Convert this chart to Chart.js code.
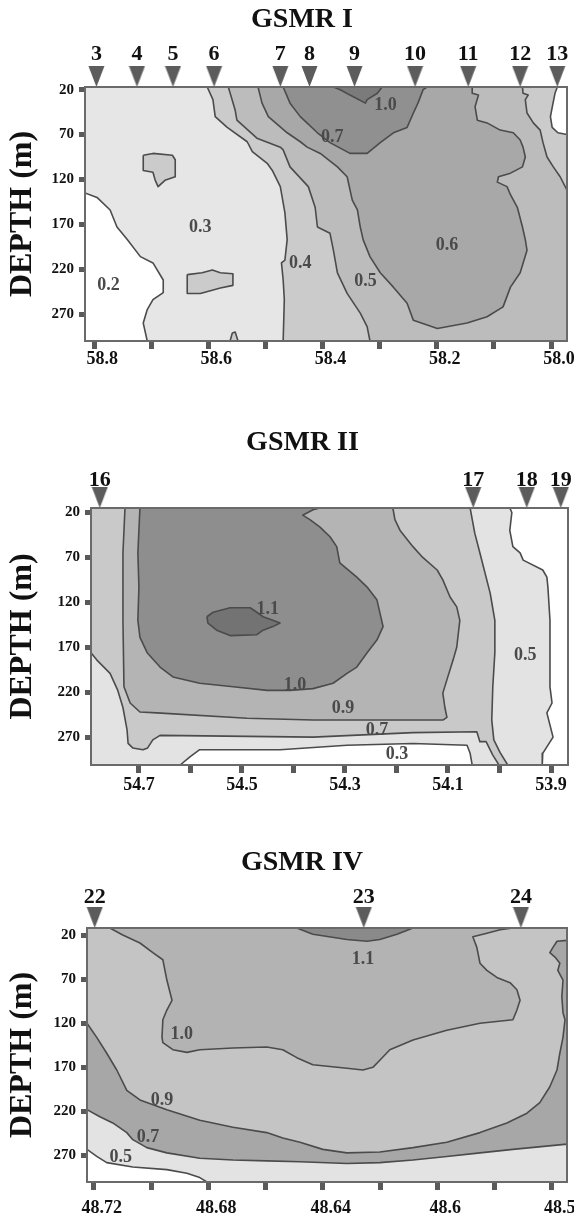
<!DOCTYPE html>
<html><head><meta charset="utf-8">
<script src="https://cdn.jsdelivr.net/npm/chart.js@4.4.1/dist/chart.umd.min.js"></script>
<style>
html,body{margin:0;padding:0;background:#fff;overflow:hidden;width:574px;height:1222px;position:relative}
.p{position:absolute;left:0}
canvas{display:block}
</style></head><body>
<div class="p" style="top:0px"><canvas id="c1" width="604" height="375"></canvas></div>
<div class="p" style="top:420px"><canvas id="c2" width="604" height="380"></canvas></div>
<div class="p" style="top:820px"><canvas id="c3" width="604" height="402"></canvas></div>
<script>
// ---------- shared ----------
const depthTicks = [20, 70, 120, 170, 220, 270];

// ---------- GSMR I ----------
const p1Title = 'GSMR I';
const p1XRange = [57.972, 58.816];
const p1YRange = [17, 300];
const p1StationNames = ['3','4','5','6','7','8','9','10','11','12','13'];
const p1StationLon = [58.796, 58.725, 58.662, 58.590, 58.474, 58.423, 58.344, 58.238, 58.145, 58.054, 57.989];
const p1XTicks = [58.8, 58.7, 58.6, 58.5, 58.4, 58.3, 58.2, 58.1, 58.0];
const p1XLabels = ['58.8','','58.6','','58.4','','58.2','','58.0'];
const p1Lv03 = [[58.816,17],[57.972,17],[57.972,300],[58.816,300]];
const p1Lv02 = [[58.816,135],[58.795,140],[58.772,154],[58.760,173],[58.742,187],[58.719,206],[58.697,213],[58.679,232],[58.679,246],[58.697,254],[58.707,265],[58.714,280],[58.707,300],[58.816,300]];
const p1Lv04 = [[58.602,17],[58.592,31],[58.588,50],[58.567,62],[58.532,78],[58.523,89],[58.497,102],[58.488,110],[58.474,128],[58.466,157],[58.462,187],[58.466,210],[58.472,213],[58.469,232],[58.467,254],[58.469,300],[57.972,300],[57.972,17]];
const p1Lv05 = [[58.565,17],[58.553,43],[58.550,54],[58.515,74],[58.474,84],[58.469,87],[58.457,106],[58.425,128],[58.413,151],[58.409,173],[58.387,180],[58.381,199],[58.374,224],[58.357,247],[58.334,269],[58.322,284],[58.317,300],[57.972,300],[57.972,17]];
const p1Lv04East = [[58.050,17],[58.049,24],[58.040,26],[58.045,31],[58.042,46],[58.031,57],[58.019,65],[58.014,79],[58.007,95],[57.996,106],[57.984,117],[57.972,132],[57.972,17]];
const p1Lv03East = [[57.989,17],[57.993,24],[57.998,40],[58.001,50],[57.998,62],[57.988,68],[57.972,70],[57.972,17]];
const p1Lv06 = [[58.513,17],[58.506,35],[58.495,50],[58.462,68],[58.439,78],[58.427,84],[58.404,91],[58.374,106],[58.357,117],[58.348,143],[58.339,154],[58.334,173],[58.329,187],[58.317,206],[58.299,224],[58.276,240],[58.252,258],[58.241,277],[58.199,286],[58.147,280],[58.112,273],[58.084,262],[58.071,240],[58.054,224],[58.042,199],[58.045,187],[58.050,173],[58.059,151],[58.071,137],[58.077,128],[58.094,123],[58.092,117],[58.071,113],[58.050,106],[58.045,95],[58.049,84],[58.054,76],[58.066,68],[58.089,65],[58.112,57],[58.129,54],[58.133,39],[58.127,26],[58.138,24],[58.138,17]];
const p1Lv07 = [[58.469,17],[58.457,35],[58.439,50],[58.409,68],[58.387,79],[58.352,91],[58.322,91],[58.299,79],[58.276,68],[58.252,62],[58.241,46],[58.233,35],[58.224,20],[58.217,17]];
const p1Lv10 = [[58.381,17],[58.369,20],[58.352,26],[58.325,35],[58.322,31],[58.304,24],[58.296,17]];
const p1IslandA = [[58.714,93],[58.697,91],[58.663,93],[58.658,98],[58.658,117],[58.676,121],[58.688,128],[58.693,121],[58.697,112],[58.714,110],[58.714,102],[58.714,93]];
const p1IslandB = [[58.637,226],[58.611,224],[58.593,221],[58.579,224],[58.557,225],[58.557,238],[58.579,241],[58.614,247],[58.637,247],[58.637,226]];
const p1IslandC = [[58.562,300],[58.558,291],[58.553,290],[58.548,300]];
const p1Labels = [[58.290,37,'1.0'],[58.383,73,'0.7'],[58.182,193,'0.6'],[58.325,234,'0.5'],[58.439,213,'0.4'],[58.614,173,'0.3'],[58.775,238,'0.2']];

// ---------- GSMR II ----------
const p2Title = 'GSMR II';
const p2XRange = [53.867, 54.793];
const p2YRange = [15, 301];
const p2StationNames = ['16','17','18','19'];
const p2StationLon = [54.776, 54.051, 53.947, 53.881];
const p2XTicks = [54.7, 54.6, 54.5, 54.4, 54.3, 54.2, 54.1, 54.0, 53.9];
const p2XLabels = ['54.7','','54.5','','54.3','','54.1','','53.9'];
const p2Lv05 = [[54.793,15],[53.867,15],[53.867,301],[54.793,301]];
const p2Lv03East = [[53.980,15],[53.976,20],[53.980,40],[53.974,58],[53.960,65],[53.954,73],[53.916,84],[53.908,92],[53.906,103],[53.902,140],[53.902,176],[53.902,214],[53.898,232],[53.908,243],[53.896,270],[53.916,288],[53.917,301],[53.867,301],[53.867,15]];
const p2Lv03Bottom = [[54.620,301],[54.601,292],[54.582,284],[54.426,284],[54.296,279],[54.168,277],[54.063,279],[54.057,288],[54.053,301]];
const p2Lv07 = [[54.793,15],[54.057,15],[54.048,43],[54.038,65],[54.018,110],[54.009,140],[54.009,176],[54.013,214],[54.015,251],[54.011,273],[53.999,287],[53.984,301],[54.001,301],[54.013,290],[54.026,275],[54.038,275],[54.044,264],[54.168,265],[54.362,270],[54.659,268],[54.673,273],[54.683,282],[54.692,284],[54.712,282],[54.721,277],[54.723,262],[54.731,237],[54.741,218],[54.756,199],[54.782,184],[54.793,176]];
const p2Lv09 = [[54.727,15],[54.731,65],[54.731,140],[54.729,214],[54.717,232],[54.698,242],[54.665,243],[54.490,249],[54.362,251],[54.110,251],[54.102,248],[54.106,237],[54.110,221],[54.102,206],[54.090,184],[54.083,170],[54.077,140],[54.083,125],[54.096,114],[54.110,95],[54.121,84],[54.149,70],[54.168,58],[54.193,40],[54.203,28],[54.207,15]];
const p2Lv10 = [[54.698,15],[54.702,65],[54.700,103],[54.702,140],[54.698,159],[54.684,176],[54.659,192],[54.634,203],[54.582,210],[54.517,214],[54.451,218],[54.407,218],[54.362,216],[54.323,210],[54.296,199],[54.277,192],[54.257,176],[54.238,162],[54.226,147],[54.232,132],[54.238,117],[54.257,103],[54.277,92],[54.310,76],[54.316,58],[54.329,47],[54.349,36],[54.368,28],[54.382,23],[54.362,17],[54.349,15]];
const p2Lv11 = [[54.568,136],[54.556,131],[54.523,126],[54.484,126],[54.471,131],[54.459,136],[54.440,140],[54.426,143],[54.440,147],[54.459,151],[54.471,156],[54.523,157],[54.549,151],[54.566,143],[54.568,136]];
const p2Labels = [[54.450,128,'1.1'],[54.397,212,'1.0'],[54.304,238,'0.9'],[54.238,262,'0.7'],[54.199,289,'0.3'],[53.950,179,'0.5']];

// ---------- GSMR IV ----------
const p3Title = 'GSMR IV';
const p3XRange = [48.5547, 48.7224];
const p3YRange = [12, 300];
const p3StationNames = ['22','23','24'];
const p3StationLon = [48.7197, 48.6257, 48.5708];
const p3XTicks = [48.72, 48.70, 48.68, 48.66, 48.64, 48.62, 48.60, 48.58, 48.56];
const p3XLabels = ['48.72','','48.68','','48.64','','48.6','','48.5'];
const p3Lv07 = [[48.7224,12],[48.5547,12],[48.5547,300],[48.7224,300]];
const p3Lv09 = [[48.7224,12],[48.7224,120],[48.7190,136],[48.7155,154],[48.7120,173],[48.7085,196],[48.7039,207],[48.6945,218],[48.6830,230],[48.6714,238],[48.6596,244],[48.6540,250],[48.6480,255],[48.6400,263],[48.6316,267],[48.6201,266],[48.6085,261],[48.5967,255],[48.5851,244],[48.5757,233],[48.5687,222],[48.5642,210],[48.5607,192],[48.5582,173],[48.5572,154],[48.5561,136],[48.5554,116],[48.5561,108],[48.5565,90],[48.5561,71],[48.5579,60],[48.5572,52],[48.5589,45],[48.5607,40],[48.5596,34],[48.5582,27],[48.5547,26],[48.5547,12]];
const p3Lv10 = [[48.7144,12],[48.7099,20],[48.7039,29],[48.6994,40],[48.6959,48],[48.6945,71],[48.6927,94],[48.6945,105],[48.6959,116],[48.6962,136],[48.6959,142],[48.6924,150],[48.6875,153],[48.6830,150],[48.6714,148],[48.6596,147],[48.6540,150],[48.6491,159],[48.6435,167],[48.6316,171],[48.6260,173],[48.6225,170],[48.6201,162],[48.6166,150],[48.6085,139],[48.5967,128],[48.5851,120],[48.5736,116],[48.5722,105],[48.5711,94],[48.5722,82],[48.5746,74],[48.5792,68],[48.5827,60],[48.5851,52],[48.5862,34],[48.5876,22],[48.5827,18],[48.5781,14],[48.5736,12]];
const p3Lv11 = [[48.6491,12],[48.6435,19],[48.6316,25],[48.6246,27],[48.6201,25],[48.6141,19],[48.6085,12]];
const p3Lv05 = [[48.7224,218],[48.7179,226],[48.7134,233],[48.7085,244],[48.7064,252],[48.7015,261],[48.6945,267],[48.6830,273],[48.6714,275],[48.6596,276],[48.6480,277],[48.6316,279],[48.6201,278],[48.6085,275],[48.5967,271],[48.5851,267],[48.5736,263],[48.5547,257],[48.5547,300],[48.7224,300]];
const p3Lv03 = [[48.7224,263],[48.7190,271],[48.7155,278],[48.7064,283],[48.6945,286],[48.6875,290],[48.6830,295],[48.6805,300],[48.7224,300]];
const p3Labels = [[48.6260,48,'1.1'],[48.6893,133,'1.0'],[48.6962,207,'0.9'],[48.7011,249,'0.7'],[48.7106,272,'0.5']];

// ---------- drawing ----------
const SERIF = '"Liberation Serif", "DejaVu Serif", serif';
const LINE = '#4b4b4b';
Chart.defaults.font.family = SERIF;

function triangleImage() {
  const c = document.createElement('canvas');
  c.width = 17; c.height = 44;
  const g = c.getContext('2d');
  g.fillStyle = '#5c5c5c';
  g.beginPath(); g.moveTo(0.5, 1); g.lineTo(16.5, 1); g.lineTo(8.5, 22); g.closePath(); g.fill();
  return c;
}
const TRI = triangleImage();

function region(pts, color) {
  return { data: pts.map(p => ({x: p[0], y: p[1]})), showLine: true, fill: 'shape',
    backgroundColor: color, borderColor: LINE, borderWidth: 1.6, pointRadius: 0, tension: 0,
    borderJoinStyle: 'round' };
}

function makePanel(id, P) {
  const datasets = P.layers.map((l, i) => Object.assign(region(l[0], l[1]), {order: 1000 - i}));
  datasets.push({ data: P.stLon.map(v => ({x: v, y: P.yRange[0]})), showLine: false, clip: false,
    pointStyle: TRI, pointRadius: 8, order: -10 });
  const labelsPlugin = {
    id: 'contourLabels' + id,
    afterDatasetsDraw(chart) {
      const {ctx, chartArea: a} = chart; const sx = chart.scales.x, sy = chart.scales.y;
      ctx.save();
      ctx.strokeStyle = '#6a6a6a'; ctx.lineWidth = 2;
      ctx.strokeRect(a.left, a.top, a.right - a.left, a.bottom - a.top);
      ctx.font = 'bold 18px ' + SERIF; ctx.fillStyle = '#4a4a4a';
      ctx.textAlign = 'center'; ctx.textBaseline = 'middle';
      P.labels.forEach(t => ctx.fillText(t[2], sx.getPixelForValue(t[0]), sy.getPixelForValue(t[1])));
      ctx.restore();
    }
  };
  new Chart(document.getElementById(id), {
    type: 'scatter',
    data: { datasets },
    plugins: [labelsPlugin],
    options: {
      responsive: false, animation: false, events: [],
      layout: { padding: { left: 37, right: P.padRight, top: 0, bottom: 0 } },
      plugins: {
        legend: { display: false }, tooltip: { enabled: false },
        title: { display: true, text: P.title, color: '#111',
          font: { family: SERIF, size: 28, weight: 'bold', lineHeight: 1.2 },
          padding: { top: P.titlePad, bottom: 0 } }
      },
      scales: {
        x: { type: 'linear', position: 'bottom', min: P.xRange[0], max: P.xRange[1], reverse: true,
          afterBuildTicks: s => { s.ticks = P.xTicks.map(v => ({value: v})); },
          afterFit: s => { s.height = P.botH; },
          ticks: { callback: (v, i) => P.xLabels[i], color: '#111', autoSkip: false, maxRotation: 0,
            padding: P.xPad, labelOffset: P.xOff, font: { family: SERIF, size: 18, weight: 'bold', lineHeight: 1.2 } },
          grid: { drawOnChartArea: false, drawTicks: true, tickLength: 8, tickWidth: 5, tickColor: '#5a5a5a' },
          border: { display: false } },
        xTop: { type: 'linear', position: 'top', min: P.xRange[0], max: P.xRange[1], reverse: true,
          afterBuildTicks: s => { s.ticks = P.stLon.map(v => ({value: v})); },
          afterFit: s => { s.height = P.topH; },
          ticks: { callback: (v, i) => P.stNames[i], color: '#111', autoSkip: false, maxRotation: 0,
            padding: P.stPad, font: { family: SERIF, size: 22, weight: 'bold', lineHeight: 1.2 } },
          grid: { display: false, drawTicks: false }, border: { display: false } },
        y: { type: 'linear', position: 'left', min: P.yRange[0], max: P.yRange[1], reverse: true,
          afterBuildTicks: s => { s.ticks = depthTicks.map(v => ({value: v})); },
          afterFit: s => { s.width = P.leftW - 37; },
          ticks: { color: '#111', autoSkip: false, padding: 5,
            font: { family: SERIF, size: 15, weight: 'bold' } },
          grid: { drawOnChartArea: false, tickLength: 6, tickWidth: 5, tickColor: '#5a5a5a' },
          border: { display: false },
          title: { display: true, text: 'DEPTH (m)', color: '#111',
            font: { family: SERIF, size: 32, weight: 'bold', lineHeight: 1.2 }, padding: { top: -33, bottom: 0 } } }
      }
    }
  });
}

makePanel('c1', {
  title: p1Title, xRange: p1XRange, yRange: p1YRange, stNames: p1StationNames, stLon: p1StationLon,
  xTicks: p1XTicks, xLabels: p1XLabels, labels: p1Labels,
  padRight: 37, leftW: 85, titlePad: 3.2, topH: 50.2, botH: 34, stPad: 19, xPad: 0, xOff: 8,
  layers: [
    [p1Lv03, '#e6e6e6'], [p1Lv02, '#ffffff'], [p1Lv04, '#cbcbcb'], [p1Lv05, '#bcbcbc'],
    [p1Lv04East, '#cbcbcb'], [p1Lv03East, '#ffffff'], [p1Lv06, '#a8a8a8'], [p1Lv07, '#909090'],
    [p1Lv10, '#7b7b7b'], [p1IslandA, '#cbcbcb'], [p1IslandB, '#cbcbcb'], [p1IslandC, '#cbcbcb']
  ]
});
makePanel('c2', {
  title: p2Title, xRange: p2XRange, yRange: p2YRange, stNames: p2StationNames, stLon: p2StationLon,
  xTicks: p2XTicks, xLabels: p2XLabels, labels: p2Labels,
  padRight: 36, leftW: 91, titlePad: 6.2, topH: 48.2, botH: 35, stPad: 14, xPad: 2, xOff: 0,
  layers: [
    [p2Lv05, '#e3e3e3'], [p2Lv03East, '#ffffff'], [p2Lv03Bottom, '#ffffff'], [p2Lv07, '#c9c9c9'],
    [p2Lv09, '#b4b4b4'], [p2Lv10, '#8e8e8e'], [p2Lv11, '#737373']
  ]
});
makePanel('c3', {
  title: p3Title, xRange: p3XRange, yRange: p3YRange, stNames: p3StationNames, stLon: p3StationLon,
  xTicks: p3XTicks, xLabels: p3XLabels, labels: p3Labels,
  padRight: 37, leftW: 87, titlePad: 26.2, topH: 48.2, botH: 40, stPad: 17, xPad: 8, xOff: 8,
  layers: [
    [p3Lv07, '#a7a7a7'], [p3Lv09, '#c4c4c4'], [p3Lv10, '#b3b3b3'], [p3Lv11, '#8a8a8a'],
    [p3Lv05, '#e3e3e3'], [p3Lv03, '#ffffff']
  ]
});
</script>
</body></html>
